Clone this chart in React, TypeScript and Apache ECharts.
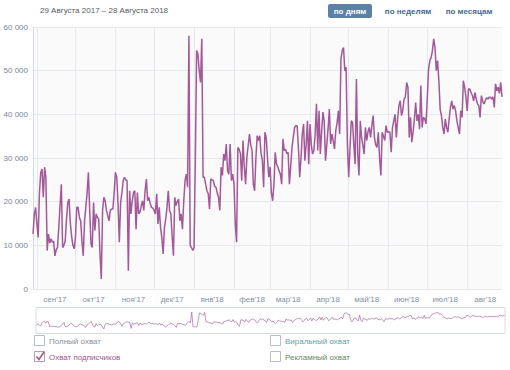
import React, { useEffect, useRef } from "react";
import * as echarts from "echarts";

// Daily values (thousands), 29 Aug 2017 – 28 Aug 2018
const aug17 = [12.6, 17, 18.7];
const sep17 = [15, 11.8, 22, 26.7, 27.5, 21, 27.9, 25.6, 8.8, 12.6, 10.5, 11.5, 10.7, 11, 7.6, 9, 9.5, 14, 19, 24, 9.5, 10, 11, 16, 19.8, 20.6, 15, 12, 10, 9.2];
const oct17 = [12, 18.7, 18.7, 16.4, 15.6, 11, 7.6, 15.6, 18.7, 22, 26.7, 18, 10.3, 9.5, 19.8, 13.4, 17.2, 16.4, 16, 8, 2.3, 18, 21, 20.2, 18, 16.8, 15.6, 18, 18.3, 18.3, 22];
const nov17 = [26.7, 25.6, 19.5, 10.7, 19.8, 22, 24.8, 25.6, 25, 24.8, 4.2, 22.5, 17.2, 20, 22.1, 22.5, 13.7, 22.1, 17.2, 17.6, 19, 20.2, 18, 22.5, 25.2, 20.2, 21, 19.5, 18.7, 18.5];
const dec17 = [18, 17.2, 21.8, 14.9, 18.7, 14, 11.8, 8, 14, 16, 18.7, 22.5, 18, 17.2, 12, 7.6, 21, 19.1, 20, 20.6, 15.6, 17.2, 13.7, 20, 24.8, 26.3, 23.3, 58, 10, 9.5, 8.8];
const jan18 = [9.5, 30, 54.6, 53.8, 50, 47.3, 57.3, 25.6, 25.6, 24, 22.5, 21.8, 18.3, 25.2, 25, 24.8, 23.5, 23.3, 22, 21, 18, 27.9, 26, 30.9, 29.4, 33.2, 27.1, 26.3, 33.2, 24.8, 26.3];
const feb18 = [24, 14.9, 10.7, 32.4, 32, 31, 24.8, 34, 28, 24, 30.2, 32.8, 35.5, 33, 31.7, 24, 22.5, 30, 35.1, 34, 35.1, 31, 29.4, 23.3, 35.9, 34.7, 30, 25.6];
const mar18 = [28, 22, 20.2, 24, 31.3, 28.6, 28, 27, 26.3, 24, 34.4, 31.7, 32, 31, 31.3, 24, 28, 32.4, 34.7, 37, 37.4, 37.4, 32.4, 25.6, 30, 35.5, 37.8, 29.4, 33, 38.5, 28.6];
const apr18 = [37.8, 33, 30.9, 31.7, 35.5, 42.4, 31.7, 40.8, 30.9, 36, 40.5, 38.5, 29.4, 33, 36.6, 41.2, 33.2, 35.5, 34, 32.1, 36.3, 38, 40.8, 35.5, 52.7, 54.6, 55.3, 50, 50.8, 33.2];
const may18 = [25.6, 32, 38.5, 38.2, 33, 28.6, 48.1, 30.9, 26, 38.5, 34.7, 33, 30.9, 37, 34, 36, 37, 34.7, 37.4, 39.7, 34.7, 33, 32.4, 35.9, 30, 26, 35.9, 35, 34, 37.4, 35.9];
const jun18 = [36, 35.9, 31.3, 37, 38.5, 40, 34.7, 39, 42, 43.1, 39.7, 41, 43.5, 43.9, 47.3, 46.2, 34.7, 39.3, 33.6, 36, 38.9, 42.7, 38.5, 40, 36.6, 46.6, 37, 39.3, 39, 37.8];
const jul18 = [43.5, 50.3, 52.3, 53, 54.6, 57.3, 55.3, 50, 52.3, 47.7, 41.2, 39.7, 37, 35.5, 38.9, 37, 35.9, 39, 41.6, 43.1, 41.2, 42, 40.8, 38.5, 37, 35.5, 40.8, 39.3, 47.7, 46.2, 44];
const aug18 = [40.8, 45.8, 45.8, 45, 44.3, 43.1, 45, 43.5, 42.4, 42, 39.3, 44.3, 43, 42.4, 43.1, 43.8, 43.5, 43.9, 43.9, 43.5, 44, 41.6, 47, 45.4, 46.2, 44.8, 47.3, 44];

const subscriberReach = [
  ...aug17, ...sep17, ...oct17, ...nov17, ...dec17, ...jan18, ...feb18,
  ...mar18, ...apr18, ...may18, ...jun18, ...jul18, ...aug18,
];

const monthNames = ["янв", "фев", "мар", "апр", "май", "июн", "июл", "авг", "сен", "окт", "ноя", "дек"];
const yTicks = [0, 10, 20, 30, 40, 50, 60];
const legendItems = [
  { label: "Полный охват", color: "#8a8f98", checked: false },
  { label: "Охват подписчиков", color: "#a0568f", checked: true },
  { label: "Виральный охват", color: "#5f9fa6", checked: false },
  { label: "Рекламный охват", color: "#5f8a60", checked: false },
];
const periodButtons = ["по дням", "по неделям", "по месяцам"];
const headerText = "29 Августа 2017 – 28 Августа 2018";

const startDate = new Date(2017, 7, 29);
const dates: Date[] = subscriberReach.map((_, i) => {
  const d = new Date(startDate);
  d.setDate(startDate.getDate() + i);
  return d;
});
const categories = dates.map((d) => `${d.getFullYear()}-${d.getMonth() + 1}-${d.getDate()}`);

const FONT = "'Liberation Sans', Arial, sans-serif";
const LINE = "#a3589a";

export default function App() {
  const ref = useRef<HTMLDivElement>(null);
  useEffect(() => {
    if (!ref.current) return;
    const chart = echarts.init(ref.current, undefined, { renderer: "svg" });

    const graphics: any[] = [];
    graphics.push({
      type: "text",
      left: 40,
      top: 6,
      style: { text: headerText, fill: "#555a61", font: `8px ${FONT}` },
    });
    const btnCenters = [350, 408, 469];
    periodButtons.forEach((b, i) => {
      if (i === 0) {
        graphics.push({
          type: "rect",
          shape: { x: 328, y: 4, width: 44, height: 14, r: 2 },
          style: { fill: "#5d80a7" },
        });
      }
      graphics.push({
        type: "text",
        x: btnCenters[i],
        y: 11,
        style: {
          text: b,
          fill: i === 0 ? "#ffffff" : "#45688e",
          font: `bold 8px ${FONT}`,
          align: "center",
          verticalAlign: "middle",
        },
      });
    });
    legendItems.forEach((it, i) => {
      const x = i < 2 ? 34 : 270;
      const y = i % 2 === 0 ? 341 : 357;
      graphics.push({
        type: "rect",
        shape: { x: x + 0.5, y: y - 5.5, width: 10, height: 10 },
        style: { fill: "#fff", stroke: it.checked ? "#b99ab5" : "#b7bec8", lineWidth: 1 },
      });
      if (it.checked) {
        graphics.push({
          type: "polyline",
          shape: { points: [[x + 2.5, y - 0.5], [x + 5, y + 2.5], [x + 10, y - 5]] },
          style: { stroke: it.color, lineWidth: 1.6, fill: null },
        });
      }
      graphics.push({
        type: "text",
        x: x + 15,
        y: y,
        style: { text: it.label, fill: it.color, font: `8px ${FONT}`, verticalAlign: "middle" },
      });
    });

    chart.setOption({
      animation: false,
      backgroundColor: "#ffffff",
      grid: {
        left: 33,
        right: 8,
        top: 27,
        bottom: 81,
        show: true,
        backgroundColor: "#fafafb",
        borderWidth: 0,
      },
      xAxis: {
        type: "category",
        data: categories,
        boundaryGap: false,
        axisLine: { show: false },
        axisTick: { show: false },
        axisLabel: {
          interval: (idx: number) => dates[idx].getDate() === 15,
          formatter: (_v: string, idx: number) => {
            const d = dates[idx];
            return `${monthNames[d.getMonth()]}'${String(d.getFullYear()).slice(2)}`;
          },
          color: "#8192a6",
          fontSize: 8,
          fontFamily: FONT,
          margin: 6,
        },
        splitLine: {
          show: true,
          interval: (idx: number) => dates[idx].getDate() === 1,
          lineStyle: { color: "#e6e8ee", width: 1 },
        },
      },
      yAxis: {
        type: "value",
        min: 0,
        max: 60,
        interval: 10,
        axisLine: { show: true, lineStyle: { color: "#d3dae4" } },
        axisTick: { show: false },
        axisLabel: {
          formatter: (v: number) => (v === 0 ? "0" : `${v} 000`),
          color: "#77849a",
          fontSize: 8,
          fontFamily: FONT,
          margin: 5,
          customValues: yTicks,
        },
        splitLine: { lineStyle: { color: "#e6e8ee", width: 1 } },
      },
      dataZoom: [
        {
          type: "slider",
          xAxisIndex: 0,
          start: 0,
          end: 100,
          left: 33,
          right: 7,
          top: 307,
          height: 27,
          showDetail: false,
          brushSelect: false,
          borderColor: "#d6dce4",
          backgroundColor: "#ffffff",
          fillerColor: "rgba(0,0,0,0)",
          handleSize: 0,
          handleStyle: { opacity: 0 },
          moveHandleSize: 0,
          moveHandleStyle: { opacity: 0 },
          emphasis: { handleStyle: { opacity: 0 }, moveHandleStyle: { opacity: 0 } },
          dataBackground: {
            lineStyle: { color: LINE, width: 0.7, opacity: 0.9 },
            areaStyle: { opacity: 0 },
          },
          selectedDataBackground: {
            lineStyle: { color: LINE, width: 0.7, opacity: 0.9 },
            areaStyle: { opacity: 0 },
          },
        },
      ],
      series: [
        {
          type: "line",
          name: "Охват подписчиков",
          data: subscriberReach,
          showSymbol: false,
          symbol: "none",
          lineStyle: { color: LINE, width: 1.5 },
        },
      ],
      graphic: graphics,
    });
    return () => chart.dispose();
  }, []);
  return <div ref={ref} style={{ width: 510, height: 370, position: "absolute", left: 0, top: 0 }} />;
}
